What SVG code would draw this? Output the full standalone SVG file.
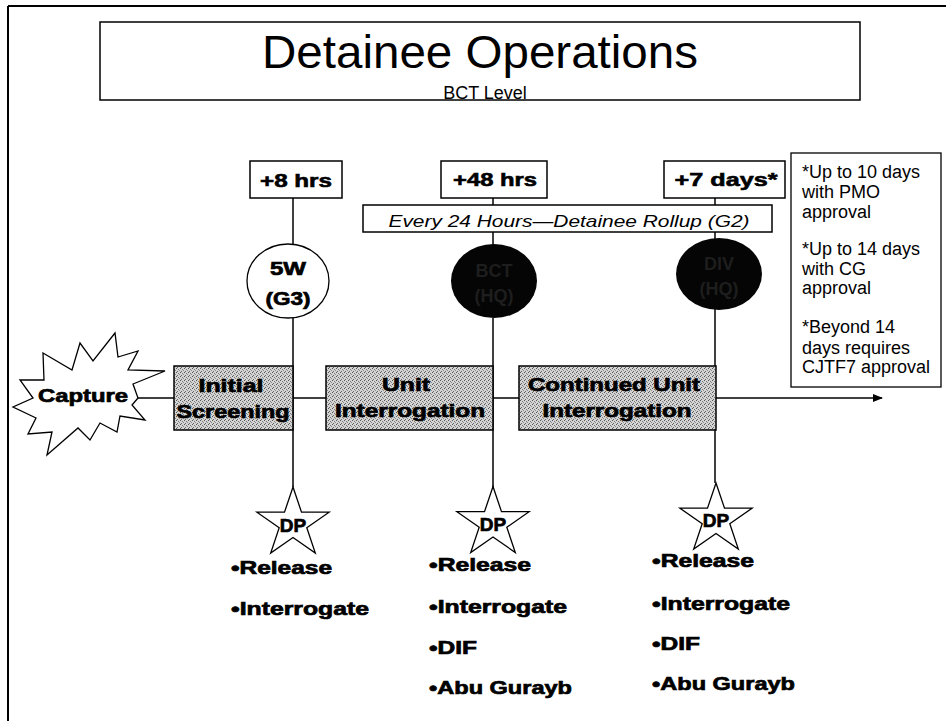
<svg xmlns="http://www.w3.org/2000/svg" width="946" height="721" viewBox="0 0 946 721">
<style>
.ln{stroke:#000;stroke-width:1.5;fill:none}
.box{fill:#fff;stroke:#000;stroke-width:1.5}
.hdr{font-family:"Liberation Sans",Arial,sans-serif;font-weight:bold;font-size:19px;fill:#000;stroke:#000;stroke-width:0.6;text-anchor:middle}
.proc{fill:url(#stip);stroke:#000;stroke-width:1.5}
.pt{font-family:"Liberation Sans",Arial,sans-serif;font-weight:bold;font-size:19px;fill:#000;stroke:#000;stroke-width:0.7;text-anchor:middle}
.it{font-family:"Liberation Sans",Arial,sans-serif;font-weight:bold;font-size:19px;fill:#000;stroke:#000;stroke-width:0.7}
.note{font-family:"Liberation Sans",Arial,sans-serif;font-size:18px;fill:#000}
.star{fill:#fff;stroke:#000;stroke-width:1.3}
.dark{font-family:"Liberation Sans",Arial,sans-serif;font-weight:bold;font-size:18px;fill:#1e1e1e;text-anchor:middle}
</style>
<defs>
<pattern id="stip" width="4" height="4" patternUnits="userSpaceOnUse">
<rect width="4" height="4" fill="#d4d4d4"/>
<rect x="0" y="0" width="1" height="1" fill="#555"/>
<rect x="2" y="1" width="1" height="1" fill="#777"/>
<rect x="1" y="3" width="1" height="1" fill="#666"/>
<rect x="3" y="2" width="1" height="1" fill="#8a8a8a"/>
</pattern>
<polygon id="starShape" points="0,-36.5 8.5,-11.3 36.1,-11.3 13.8,4.3 22.3,29.5 0,14 -22.3,29.5 -13.8,4.3 -36.1,-11.3 -8.5,-11.3"/>
<marker id="arr" markerWidth="10" markerHeight="8" refX="9" refY="4" orient="auto" markerUnits="userSpaceOnUse">
<path d="M0,0 L10,4 L0,8 Z" fill="#000"/>
</marker>
</defs>
<rect width="946" height="721" fill="#fff"/>
<g id="frame">
<line x1="8" y1="6" x2="946" y2="6" stroke="#000" stroke-width="2"/>
<line x1="8" y1="6" x2="8" y2="721" stroke="#000" stroke-width="2"/>
</g>
<g id="title">
<rect x="100" y="22" width="760" height="78" fill="#fff" stroke="#000" stroke-width="1.5"/>
<text x="480" y="68" font-family="Liberation Sans, Arial, sans-serif" font-size="46" text-anchor="middle" textLength="436" lengthAdjust="spacingAndGlyphs">Detainee Operations</text>
<text x="485" y="99" font-family="Liberation Sans, Arial, sans-serif" font-size="18" text-anchor="middle">BCT Level</text>
</g>
<g id="connectors">
<line class="ln" x1="138" y1="398" x2="882" y2="398" marker-end="url(#arr)"/>
<line class="ln" x1="293" y1="198" x2="293" y2="245"/>
<line class="ln" x1="293" y1="318" x2="293" y2="487"/>
<line class="ln" x1="493" y1="198" x2="493" y2="245"/>
<line class="ln" x1="493" y1="318" x2="493" y2="487"/>
<line class="ln" x1="715" y1="198" x2="715" y2="240"/>
<line class="ln" x1="715" y1="308" x2="715" y2="483"/>
</g>
<g id="hdr8">
<rect class="box" x="250" y="161" width="92" height="37"/>
<text class="hdr" x="296" y="187" textLength="72" lengthAdjust="spacingAndGlyphs">+8 hrs</text>
</g>
<g id="hdr48">
<rect class="box" x="441" y="161" width="106" height="37"/>
<text class="hdr" x="495" y="186" textLength="84" lengthAdjust="spacingAndGlyphs">+48 hrs</text>
</g>
<g id="hdr7">
<rect class="box" x="664" y="161" width="121" height="37"/>
<text class="hdr" x="726" y="186" textLength="103" lengthAdjust="spacingAndGlyphs">+7 days*</text>
</g>
<g id="rollup">
<rect class="box" x="363" y="205" width="409" height="27"/>
<text x="569" y="227" font-family="Liberation Sans, Arial, sans-serif" font-style="italic" font-size="17" text-anchor="middle" textLength="361" lengthAdjust="spacingAndGlyphs">Every 24 Hours—Detainee Rollup (G2)</text>
</g>
<g id="note">
<rect x="791" y="153" width="150" height="234" fill="#fff" stroke="#000" stroke-width="1.3"/>
<text class="note" x="802" y="178">*Up to 10 days</text>
<text class="note" x="802" y="198">with PMO</text>
<text class="note" x="802" y="218">approval</text>
<text class="note" x="802" y="255">*Up to 14 days</text>
<text class="note" x="802" y="275">with CG</text>
<text class="note" x="802" y="294">approval</text>
<text class="note" x="802" y="333">*Beyond 14</text>
<text class="note" x="802" y="354">days requires</text>
<text class="note" x="802" y="373">CJTF7 approval</text>
</g>
<g id="c5w">
<ellipse cx="288" cy="281" rx="41" ry="37" fill="#fff" stroke="#000" stroke-width="1.3"/>
<text class="pt" x="288" y="275" font-size="19" textLength="36" lengthAdjust="spacingAndGlyphs">5W</text>
<text class="pt" x="288" y="305" font-size="19" textLength="45" lengthAdjust="spacingAndGlyphs">(G3)</text>
</g>
<g id="cbct">
<ellipse cx="494" cy="281" rx="43" ry="37" fill="#050505"/>
<text class="dark" x="494" y="277">BCT</text>
<text class="dark" x="494" y="302">(HQ)</text>
</g>
<g id="cdiv">
<ellipse cx="719" cy="274" rx="43" ry="36" fill="#050505"/>
<text class="dark" x="719" y="270">DIV</text>
<text class="dark" x="719" y="295">(HQ)</text>
</g>
<g id="capture">
<polygon points="43,353 72,370 80,343 93,361 115,333 118,357 138,351 128,370 165,371 133,384 138,398 132,405 145,420 120,416 117,432 100,423 90,440 78,428 47,455 52,432 28,434 36,418 13,407 33,398 20,380 44,380" fill="#fff" stroke="#000" stroke-width="1.3"/>
<text class="pt" x="83" y="402" font-size="20" textLength="90" lengthAdjust="spacingAndGlyphs">Capture</text>
</g>
<g id="screening">
<rect class="proc" x="174" y="366" width="119" height="64"/>
<text class="pt" x="231" y="392" textLength="65" lengthAdjust="spacingAndGlyphs">Initial</text>
<text class="pt" x="233" y="418" textLength="113" lengthAdjust="spacingAndGlyphs">Screening</text>
</g>
<g id="unit">
<rect class="proc" x="326" y="366" width="167" height="64"/>
<text class="pt" x="406" y="391" textLength="48" lengthAdjust="spacingAndGlyphs">Unit</text>
<text class="pt" x="410" y="417" textLength="150" lengthAdjust="spacingAndGlyphs">Interrogation</text>
</g>
<g id="continued">
<rect class="proc" x="519" y="366" width="197" height="64"/>
<text class="pt" x="614" y="391" textLength="172" lengthAdjust="spacingAndGlyphs">Continued Unit</text>
<text class="pt" x="617" y="417" textLength="149" lengthAdjust="spacingAndGlyphs">Interrogation</text>
</g>
<g id="dp1">
<use href="#starShape" class="star" transform="translate(293,523.5)"/>
<text class="pt" x="293" y="532" font-size="20">DP</text>
<text class="it" x="231" y="574" textLength="101" lengthAdjust="spacingAndGlyphs">•Release</text>
<text class="it" x="231" y="615" textLength="138" lengthAdjust="spacingAndGlyphs">•Interrogate</text>
</g>
<g id="dp2">
<use href="#starShape" class="star" transform="translate(493,523)"/>
<text class="pt" x="493" y="531" font-size="20">DP</text>
<text class="it" x="429" y="571" textLength="102" lengthAdjust="spacingAndGlyphs">•Release</text>
<text class="it" x="429" y="613" textLength="138" lengthAdjust="spacingAndGlyphs">•Interrogate</text>
<text class="it" x="429" y="654" textLength="48" lengthAdjust="spacingAndGlyphs">•DIF</text>
<text class="it" x="429" y="694" textLength="143" lengthAdjust="spacingAndGlyphs">•Abu Gurayb</text>
</g>
<g id="dp3">
<use href="#starShape" class="star" transform="translate(716,519.5)"/>
<text class="pt" x="716" y="527" font-size="20">DP</text>
<text class="it" x="652" y="567" textLength="102" lengthAdjust="spacingAndGlyphs">•Release</text>
<text class="it" x="652" y="610" textLength="138" lengthAdjust="spacingAndGlyphs">•Interrogate</text>
<text class="it" x="652" y="650" textLength="48" lengthAdjust="spacingAndGlyphs">•DIF</text>
<text class="it" x="652" y="690" textLength="143" lengthAdjust="spacingAndGlyphs">•Abu Gurayb</text>
</g>
</svg>
